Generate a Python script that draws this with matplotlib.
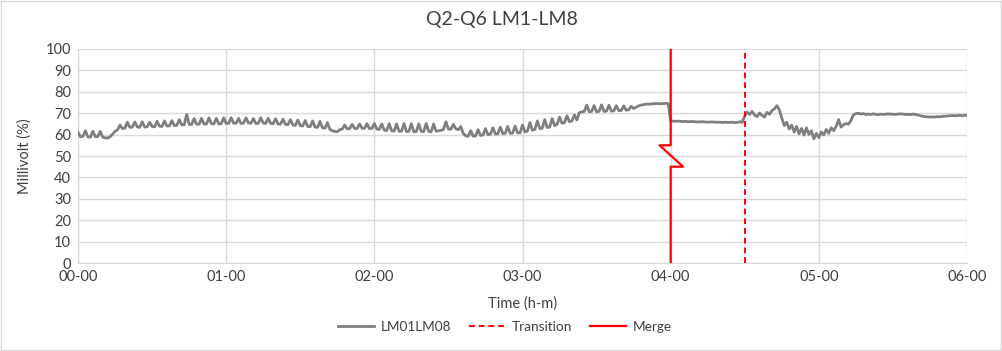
import numpy as np
import matplotlib.pyplot as plt
from matplotlib.patches import Rectangle

plt.rcParams['font.family'] = ['Lato', 'DejaVu Sans']

# minutes since 00-00, one reading a minute
minutes = np.arange(0, 361)
millivolt = [
    61.0, 59.0, 59.2, 61.8, 58.9, 58.8, 61.6, 59.0, 59.1, 61.5,
    58.8, 58.5, 58.4, 59.0, 60.2, 61.6, 62.2, 64.5, 62.8, 63.0,
    65.8, 63.4, 63.5, 65.9, 63.6, 63.4, 66.0, 63.5, 63.7, 65.8,
    63.8, 63.6, 66.2, 63.9, 63.8, 66.4, 64.0, 64.1, 66.5, 64.2,
    64.3, 67.0, 64.5, 64.6, 69.4, 64.8, 64.7, 67.5, 64.9, 64.8,
    67.6, 65.0, 64.9, 67.8, 65.1, 65.0, 67.6, 65.0, 65.1, 67.8,
    65.2, 65.3, 67.9, 65.4, 65.3, 67.6, 65.2, 65.4, 67.8, 65.5,
    65.3, 67.5, 65.2, 65.3, 67.9, 65.4, 65.2, 67.6, 65.3, 65.1,
    67.4, 65.0, 64.9, 67.2, 64.8, 64.6, 67.0, 64.5, 64.3, 66.8,
    64.2, 64.0, 66.6, 63.8, 63.7, 66.4, 63.5, 63.4, 66.2, 63.2,
    63.0, 65.6, 62.4, 61.8, 61.5, 61.4, 62.3, 62.6, 64.5, 62.7,
    62.8, 64.8, 62.9, 62.8, 65.0, 63.0, 62.9, 65.1, 62.8, 62.9,
    65.2, 62.6, 62.4, 65.0, 62.1, 61.9, 65.1, 61.8, 61.6, 65.0,
    61.5, 61.6, 65.2, 61.4, 61.5, 65.1, 61.3, 61.4, 65.0, 61.5,
    61.4, 65.2, 61.5, 61.3, 65.0, 61.6, 61.8, 62.0, 62.4, 66.0,
    62.6, 62.5, 64.8, 62.7, 62.3, 63.8, 60.5, 59.5, 59.2, 61.8,
    59.3, 59.4, 62.3, 59.6, 59.8, 62.8, 60.0, 60.2, 63.2, 60.3,
    60.4, 63.5, 60.5, 60.6, 63.8, 60.6, 60.7, 64.0, 60.8, 60.9,
    64.5, 61.3, 61.6, 65.6, 62.0, 62.4, 66.4, 62.8, 63.0, 67.0,
    63.3, 63.6, 67.5, 64.2, 64.8, 68.2, 65.3, 65.6, 68.8, 66.0,
    66.4, 69.2, 66.8, 70.2, 70.6, 70.8, 73.8, 70.7, 70.8, 73.6,
    70.6, 70.9, 73.9, 70.8, 71.0, 73.7, 71.0, 71.1, 73.5, 71.2,
    71.3, 73.4, 71.4, 71.6, 73.2, 72.2, 72.8, 73.4, 73.8, 74.0,
    74.2, 74.3, 74.3, 74.4, 74.5, 74.5, 74.4, 74.5, 74.6, 74.5,
    66.4, 66.3, 66.2, 66.3, 66.2, 66.1, 66.2, 66.0, 66.1, 66.1,
    66.0, 65.9, 66.0, 66.0, 65.9, 65.8, 65.9, 65.9, 65.8, 65.8,
    65.8, 65.7, 65.8, 65.7, 65.7, 65.8, 65.6, 65.7, 66.0, 65.7,
    68.8, 70.5, 69.4, 70.8, 69.2, 68.4, 70.1, 69.0, 68.2, 70.4,
    69.5, 71.2, 72.0, 73.5, 71.6, 67.8, 64.2, 65.8, 62.6, 64.4,
    61.2, 63.8, 60.4, 62.9, 59.8, 63.2, 60.1, 61.8, 58.0, 60.6,
    58.6, 61.2, 59.8, 62.4, 60.6, 63.2, 61.8, 63.8, 67.0, 63.5,
    64.6, 65.2, 64.9, 66.6, 69.2, 69.8, 70.0, 69.6, 69.8, 69.4,
    69.6, 69.4, 69.7, 69.5, 69.3, 69.6, 69.4, 69.5, 69.7, 69.6,
    69.5, 69.4, 69.6, 69.7, 69.6, 69.4, 69.5, 69.3, 69.6, 69.4,
    69.2, 68.9, 68.6, 68.4, 68.3, 68.2, 68.3, 68.2, 68.4, 68.3,
    68.5, 68.6, 68.7, 68.8, 68.9, 68.8, 68.9, 69.0, 68.8, 69.0,
    69.0,
]

transition_at = 270
merge_x = [240, 240, 235.5, 245, 240, 240]   # merge marker with break symbol
merge_y = [100, 55, 55, 45, 45, 0]

hour_ticks = [0, 60, 120, 180, 240, 300, 360]
hour_labels = ['00-00', '01-00', '02-00', '03-00', '04-00', '05-00', '06-00']

fig = plt.figure(figsize=(10.03, 3.51), dpi=100)
ax = fig.add_axes([0.0778, 0.2507, 0.8863, 0.6097])

ax.plot(minutes, millivolt, color='#7f7f7f', lw=2.0, label='LM01LM08', zorder=3)
ax.plot([transition_at, transition_at], [0, 100], color='#ff0000', lw=1.4,
        ls=(0, (3, 2)), label='Transition', zorder=4)
ax.plot(merge_x, merge_y, color='#ff0000', lw=1.6, label='Merge', zorder=4)

ax.set_xlim(0, 360)
ax.set_ylim(0, 100)
ax.set_xticks(hour_ticks)
ax.set_xticklabels(hour_labels)
ax.set_yticks(range(0, 101, 10))
ax.grid(True, color='#d9d9d9', lw=1)
ax.set_axisbelow(True)
for s in ['top', 'right']:
    ax.spines[s].set_visible(False)
for s in ['left', 'bottom']:
    ax.spines[s].set_color('#d9d9d9')
ax.tick_params(length=0, labelsize=10.5, colors='#404040', pad=5)

ax.set_xlabel('Time (h-m)', fontsize=10.5, color='#404040', labelpad=9)
ax.set_ylabel('Millivolt (%)', fontsize=10.5, color='#404040', labelpad=10)
fig.text(0.5, 0.945, 'Q2-Q6 LM1-LM8', ha='center', va='center',
         fontsize=14, color='#404040')

fig.legend(loc='center', bbox_to_anchor=(0.503, 0.068), ncol=3, frameon=False,
           fontsize=9.8, handlelength=2.7, handletextpad=0.45, columnspacing=1.3,
           labelcolor='#404040')

fig.patches.append(Rectangle((0.0005, 0.0015), 0.998, 0.996, transform=fig.transFigure,
                             fill=False, ec='#d9d9d9', lw=1))

fig.savefig('out.png', dpi=100)
